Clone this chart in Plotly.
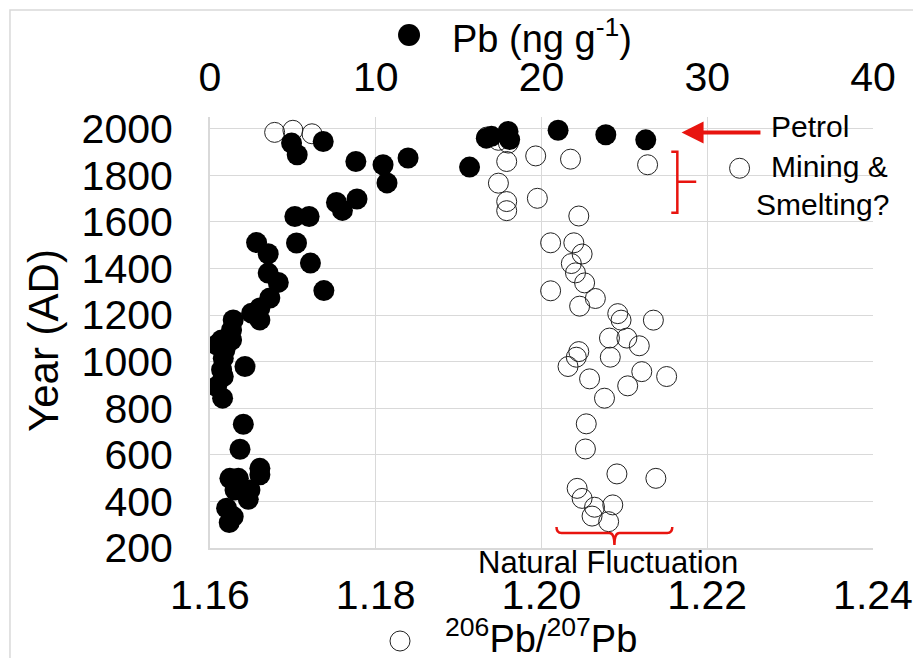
import plotly.graph_objects as go

# Pb concentration (ng/g) vs year
pb_conc = [4.92, 5.26, 6.83, 8.80, 10.44, 11.95, 10.68, 15.66, 7.63, 7.99,
           8.87, 5.12, 5.98, 2.81, 3.51, 5.22, 6.06, 3.51, 4.12, 6.87,
           3.61, 3.01, 2.51, 3.01, 1.40, 1.30, 0.70, 1.30, 0.40, 0.90,
           0.80, 2.11, 0.70, 0.80, 0.40, 0.76, 2.01, 1.81, 3.01, 3.01,
           1.20, 1.71, 2.41, 1.51, 2.31, 1.00, 1.40, 1.16, 16.67, 16.98,
           17.98, 18.08, 21.00, 23.88, 26.29]
pb_year = [1938, 1888, 1945, 1859, 1845, 1874, 1767, 1835, 1683, 1649,
           1698, 1623, 1623, 1511, 1463, 1509, 1423, 1380, 1340, 1305,
           1273, 1230, 1208, 1179, 1179, 1136, 1093, 1093, 1072, 1050,
           1015, 979, 965, 936, 893, 843, 731, 624, 542, 514,
           499, 499, 449, 449, 409, 371, 335, 309, 1959, 1967,
           1988, 1953, 1993, 1974, 1952]

# 206Pb/207Pb ratio vs year
ratio = [1.1678, 1.1700, 1.1723, 1.1934, 1.1948, 1.1960, 1.1958, 1.1993, 1.2035, 1.2128,
         1.2239, 1.1948, 1.1958, 1.1958, 1.1995, 1.2045, 1.2011, 1.2039, 1.2049, 1.2036,
         1.2041, 1.2052, 1.2011, 1.2065, 1.2046, 1.2092, 1.2096, 1.2135, 1.2082, 1.2103,
         1.2118, 1.2045, 1.2042, 1.2083, 1.2032, 1.2121, 1.2151, 1.2058, 1.2104, 1.2076,
         1.2054, 1.2053, 1.2091, 1.2138, 1.2043, 1.2049, 1.2064, 1.2086, 1.2061, 1.2081]
ratio_year = [1984, 1993, 1978, 1964, 1950, 1938, 1859, 1883, 1869, 1845,
              1830, 1766, 1687, 1648, 1701, 1625, 1510, 1510, 1462, 1421,
              1381, 1338, 1304, 1271, 1238, 1206, 1178, 1178, 1101, 1101,
              1068, 1043, 1019, 1019, 979, 957, 936, 926, 896, 843,
              733, 625, 518, 499, 456, 413, 375, 385, 337, 313]

ratio_ticks = [1.16, 1.18, 1.20, 1.22, 1.24]
pb_ticks = [0, 10, 20, 30, 40]
year_ticks = [200, 400, 600, 800, 1000, 1200, 1400, 1600, 1800, 2000]

FONT = "Liberation Sans, Arial, sans-serif"
GRID = "#d9d9d9"
RED = "#e8140f"

fig = go.Figure()

# open circles first so the filled ones sit on top
fig.add_trace(go.Scatter(
    x=ratio, y=ratio_year, mode="markers", xaxis="x", yaxis="y",
    marker=dict(size=20, color="rgba(0,0,0,0)", line=dict(color="#222", width=1)),
    showlegend=False,
))
fig.add_trace(go.Scatter(
    x=pb_conc, y=pb_year, mode="markers", xaxis="x2", yaxis="y",
    marker=dict(size=21, color="black", line=dict(width=0)),
    showlegend=False,
))

# page body adds an 8px offset, so the figure is a bit smaller than the window
fig.update_layout(
    width=905, height=650,
    margin=dict(l=202, r=40, t=109, b=110),
    paper_bgcolor="white", plot_bgcolor="white",
    font=dict(family=FONT, color="black"),
    xaxis=dict(
        range=[1.16, 1.24], tickvals=ratio_ticks,
        ticktext=[f"{v:.2f}" for v in ratio_ticks],
        showgrid=True, gridcolor=GRID, gridwidth=1,
        showline=True, linecolor=GRID, linewidth=2,
        zeroline=False, ticks="", tickfont=dict(size=41),
        ticklabelstandoff=10, automargin=False,
    ),
    xaxis2=dict(
        range=[0, 40], tickvals=pb_ticks, overlaying="x", side="top",
        showgrid=False, showline=False, zeroline=False, ticks="",
        tickfont=dict(size=41), ticklabelstandoff=17, automargin=False,
    ),
    yaxis=dict(
        range=[200, 2050], tickvals=year_ticks,
        showgrid=True, gridcolor=GRID, gridwidth=1,
        showline=True, linecolor=GRID, linewidth=2,
        zeroline=False, ticks="", tickfont=dict(size=41),
        ticklabelstandoff=27, automargin=False,
    ),
)

# axis titles as free text, with circle symbols as shapes
fig.add_annotation(text="Pb (ng g<sup>-1</sup>)", x=0.5008, y=1.188,
                   xref="paper", yref="paper", xanchor="center", yanchor="middle",
                   showarrow=False, font=dict(size=38))
fig.add_shape(type="circle", xref="paper", yref="paper",
              xsizemode="pixel", ysizemode="pixel", xanchor=0.3002, yanchor=1.1903,
              x0=-11, x1=11, y0=-11, y1=11,
              fillcolor="black", line=dict(color="black", width=0))
fig.add_annotation(text="<sup>206</sup>Pb/<sup>207</sup>Pb", x=0.4992, y=-0.2045,
                   xref="paper", yref="paper", xanchor="center", yanchor="middle",
                   showarrow=False, font=dict(size=38))
fig.add_shape(type="circle", xref="paper", yref="paper",
              xsizemode="pixel", ysizemode="pixel", xanchor=0.2866, yanchor=-0.2158,
              x0=-10, x1=10, y0=-10, y1=10,
              fillcolor="rgba(0,0,0,0)", line=dict(color="#222", width=1))
fig.add_annotation(text="Year (AD)", x=-0.2504, y=0.4826, textangle=-90,
                   xref="paper", yref="paper", xanchor="center", yanchor="middle",
                   showarrow=False, font=dict(size=42))

# side notes
fig.add_annotation(text="Petrol", x=1.2274, y=2010, xanchor="left", yanchor="middle",
                   showarrow=False, font=dict(size=30))
fig.add_annotation(text="Mining &", x=1.2275, y=1837, xanchor="left", yanchor="middle",
                   showarrow=False, font=dict(size=30))
fig.add_annotation(text="Smelting?", x=1.2257, y=1675, xanchor="left", yanchor="middle",
                   showarrow=False, font=dict(size=30))
fig.add_annotation(text="Natural Fluctuation", x=0.601, y=-0.0325,
                   xref="paper", yref="paper", xanchor="center", yanchor="middle",
                   showarrow=False, font=dict(size=31))

# petrol arrow
fig.add_annotation(x=1.2169, y=1983, ax=1.2266, ay=1983,
                   xref="x", yref="y", axref="x", ayref="y",
                   text="", showarrow=True, arrowhead=2, arrowsize=1.1,
                   arrowwidth=4, arrowcolor=RED, standoff=0)

# bracket for mining & smelting
fig.add_shape(type="path", xref="x", yref="y",
              path="M 1.21566 1901 L 1.21639 1901 L 1.21639 1639 L 1.21566 1639 "
                   "M 1.21639 1772 L 1.21867 1772",
              line=dict(color=RED, width=2.5))

# curly brace above natural fluctuation
fig.add_shape(type="path", xref="x", yref="y",
              path="M 1.20181 290 Q 1.20181 264 1.20241 264 L 1.20819 264 "
                   "Q 1.20880 264 1.20880 213 Q 1.20880 264 1.20940 264 "
                   "L 1.21518 264 Q 1.21578 264 1.21578 290",
              line=dict(color=RED, width=2.5))

# outer chart border
fig.add_shape(type="rect", xref="paper", yref="paper",
              x0=-0.3017, y0=-0.4, x1=1.2, y1=1.2483,
              line=dict(color=GRID, width=1.5), layer="below")

fig.write_html("out.html")
